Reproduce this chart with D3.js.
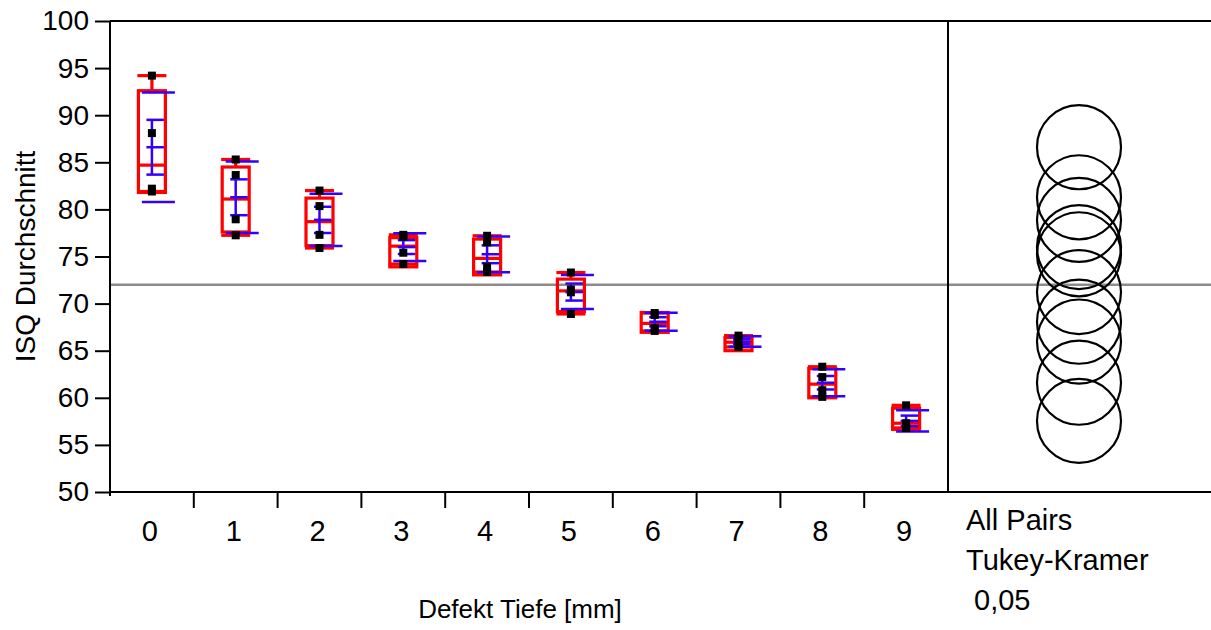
<!DOCTYPE html>
<html>
<head>
<meta charset="utf-8">
<script src="https://cdn.jsdelivr.net/npm/d3@7"></script>
<style>
  body { margin: 0; background: #fff; }
  svg text { font-family: "Liberation Sans", Arial, sans-serif; font-size: 28px; fill: #000; }
</style>
</head>
<body>
<div id="chart"></div>
<script>
// Defekt Tiefe groups
var categories = ["0", "1", "2", "3", "4", "5", "6", "7", "8", "9"];
// ISQ values per group (4 each)
var points = [
  [94.2, 88.1, 82.2, 81.9],
  [85.3, 83.65, 78.95, 77.25],
  [82.0, 80.35, 77.3, 75.9],
  [77.3, 77.1, 75.4, 74.2],
  [77.2, 76.5, 73.9, 73.35],
  [73.3, 71.5, 71.2, 68.9],
  [69.0, 68.8, 67.4, 67.1],
  [66.6, 66.3, 65.6, 65.4],
  [63.3, 62.2, 60.8, 60.1],
  [59.2, 57.3, 56.9, 56.8]
];
// quantile box values
var q1 = [81.8, 77.6, 76.15, 73.9, 73.05, 69.15, 66.95, 65.0, 60.0, 56.65];
var medians = [84.7, 81.1, 78.7, 76.1, 74.8, 71.35, 67.9, 65.9, 61.45, 57.3];
var q3 = [92.6, 84.5, 81.2, 77.0, 76.85, 72.6, 69.05, 66.4, 63.1, 58.9];
var grandMean = 72.0;
var tukeyRadius = 4.46; // comparison circle radius in ISQ units
var yTicks = [50, 55, 60, 65, 70, 75, 80, 85, 90, 95, 100];
var compareLabels = ["All Pairs", "Tukey-Kramer", " 0,05"];

var W = 1211, H = 630;
var pLeft = 110, pTop = 21, pBottom = 492, divider = 948, pRight = 1211;

var svg = d3.select("#chart").append("svg")
  .attr("width", W).attr("height", H);

var x = d3.scaleBand().domain(categories).range([pLeft, divider]).padding(0);
var y = d3.scaleLinear().domain([50, 100]).range([pBottom, pTop]);

var red = "#ff0000", blue = "#3300ff";

// grand mean line
svg.append("line")
  .attr("x1", pLeft).attr("x2", pRight)
  .attr("y1", y(grandMean)).attr("y2", y(grandMean))
  .attr("stroke", "#8c8c8c").attr("stroke-width", 2.5);

// frame
var frame = svg.append("g").attr("stroke", "#000").attr("stroke-width", 2);
frame.append("line").attr("x1", pLeft).attr("x2", pRight).attr("y1", pTop).attr("y2", pTop);
frame.append("line").attr("x1", pLeft).attr("x2", pRight).attr("y1", pBottom).attr("y2", pBottom);
frame.append("line").attr("x1", divider).attr("x2", divider).attr("y1", pTop).attr("y2", pBottom);

// y axis
var yAxis = svg.append("g")
  .attr("transform", "translate(" + pLeft + ",0)")
  .call(d3.axisLeft(y).tickValues(yTicks).tickSize(15).tickPadding(6).tickSizeOuter(0));
yAxis.select(".domain").attr("stroke-width", 2).attr("d", "M0," + pTop + "V" + (pBottom + 4));
yAxis.selectAll(".tick line").attr("stroke-width", 2);
yAxis.selectAll("text").attr("font-size", null).style("font-size", "28px").attr("font-family", null).attr("fill", "#000");

// x axis: ticks between groups
var bounds = categories.slice(1).map(function(c) { return x(c); });
svg.append("g").selectAll("line").data(bounds).enter().append("line")
  .attr("x1", function(d) { return d; }).attr("x2", function(d) { return d; })
  .attr("y1", pBottom).attr("y2", pBottom + 16)
  .attr("stroke", "#000").attr("stroke-width", 2);
svg.append("g").selectAll("text").data(categories).enter().append("text")
  .attr("x", function(d) { return x(d) + x.bandwidth() / 2 - 2; })
  .attr("y", 541)
  .attr("text-anchor", "middle")
  .style("font-size", "29px")
  .text(function(d) { return d; });

// titles
svg.append("text")
  .attr("transform", "translate(35," + ((pTop + pBottom) / 2) + ") rotate(-90)")
  .attr("text-anchor", "middle")
  .text("ISQ Durchschnitt");
svg.append("text")
  .attr("x", 520).attr("y", 618)
  .attr("text-anchor", "middle")
  .style("font-size", "26px")
  .text("Defekt Tiefe [mm]");

// groups
var groups = categories.map(function(c, i) {
  var v = points[i];
  var m = d3.mean(v), sd = d3.deviation(v);
  return {
    c: x(c) + x.bandwidth() / 2, pts: v, mean: m, sd: sd, se: sd / Math.sqrt(v.length),
    min: d3.min(v), max: d3.max(v), q1: q1[i], med: medians[i], q3: q3[i]
  };
});

var g = svg.append("g");
groups.forEach(function(d) {
  var gr = g.append("g");
  // quantile box
  gr.append("rect")
    .attr("x", d.c - 13.5).attr("width", 27)
    .attr("y", y(d.q3)).attr("height", y(d.q1) - y(d.q3))
    .attr("fill", "none").attr("stroke", red).attr("stroke-width", 3.2);
  gr.append("line").attr("x1", d.c - 13.5).attr("x2", d.c + 13.5)
    .attr("y1", y(d.med)).attr("y2", y(d.med))
    .attr("stroke", red).attr("stroke-width", 3.2);
  // whiskers
  [[d.q3, d.max], [d.q1, d.min]].forEach(function(w) {
    gr.append("line").attr("x1", d.c).attr("x2", d.c)
      .attr("y1", y(w[0])).attr("y2", y(w[1]))
      .attr("stroke", red).attr("stroke-width", 3.2);
    gr.append("line").attr("x1", d.c - 14.5).attr("x2", d.c + 14.5)
      .attr("y1", y(w[1])).attr("y2", y(w[1]))
      .attr("stroke", red).attr("stroke-width", 3.2);
  });
  // std dev lines
  [d.mean + d.sd, d.mean - d.sd].forEach(function(v) {
    gr.append("line").attr("x1", d.c - 10).attr("x2", d.c + 23)
      .attr("y1", y(v)).attr("y2", y(v))
      .attr("stroke", blue).attr("stroke-width", 2.5);
  });
  // mean error bars
  gr.append("line").attr("x1", d.c).attr("x2", d.c)
    .attr("y1", y(d.mean + d.se)).attr("y2", y(d.mean - d.se))
    .attr("stroke", blue).attr("stroke-width", 2.5);
  [d.mean + d.se, d.mean, d.mean - d.se].forEach(function(v) {
    gr.append("line").attr("x1", d.c - 5.5).attr("x2", d.c + 12)
      .attr("y1", y(v)).attr("y2", y(v))
      .attr("stroke", blue).attr("stroke-width", 2.5);
  });
  // points
  gr.selectAll("rect.pt").data(d.pts).enter().append("rect")
    .attr("class", "pt")
    .attr("x", d.c - 4).attr("width", 8)
    .attr("y", function(v) { return y(v) - 4; }).attr("height", 8)
    .attr("fill", "#000");
});

// comparison circles
var cx = 1079;
var rPx = y(50) - y(50 + tukeyRadius);
svg.append("g").selectAll("circle").data(groups).enter().append("circle")
  .attr("cx", cx).attr("cy", function(d) { return y(d.mean); })
  .attr("r", rPx)
  .attr("fill", "none").attr("stroke", "#000").attr("stroke-width", 2.2);

// comparison labels
svg.append("g").selectAll("text").data(compareLabels).enter().append("text")
  .attr("x", 966)
  .attr("y", function(d, i) { return 530 + i * 40; })
  .attr("xml:space", "preserve")
  .style("white-space", "pre")
  .style("font-size", "29px")
  .text(function(d) { return d; });
</script>
</body>
</html>
